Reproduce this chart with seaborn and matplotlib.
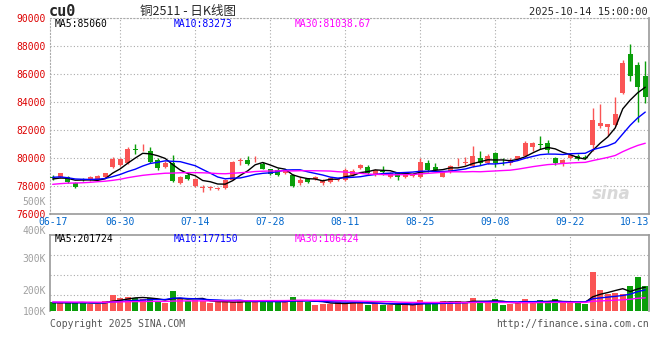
import numpy as np
import pandas as pd
import matplotlib
matplotlib.use("Agg")
import matplotlib.pyplot as plt
import seaborn as sns
from matplotlib.transforms import blended_transform_factory

# daily K data for cu2511, 2025-06-17 .. 2025-10-14 (80 trading days)
opens = [78650, 78620, 78670, 78190, 78460, 78430, 78430, 78620, 79360, 79500,
         79620, 80640, 80540, 80500, 79860, 79380, 79670, 78240, 78790, 78000,
         77850, 77880, 77800, 77840, 78430, 79780, 79860, 79980, 79570, 79190,
         79140, 78900, 78790, 78190, 78480, 78480, 78190, 78310, 78440, 78430,
         78790, 79260, 79380, 78790, 79050, 78670, 78900, 78670, 78700, 78670,
         79670, 79380, 78670, 79020, 79700, 79640, 79430, 79980, 79670, 80330,
         79720, 79620, 79930, 80140, 80760, 80960, 81050, 80020, 79670, 79980,
         80140, 80050, 80930, 82290, 82240, 82360, 84620, 87430, 86640, 85860]
highs = [78800, 78950, 78720, 78260, 78560, 78700, 78800, 78950, 80050, 80000,
         80790, 81000, 81000, 80820, 80000, 79800, 80210, 78720, 78900, 78560,
         78050, 78000, 77950, 78500, 79800, 80000, 80140, 80140, 79700, 79250,
         79300, 79250, 78850, 78650, 78550, 78750, 78500, 78650, 78600, 79300,
         79250, 79600, 79500, 79200, 79400, 79000, 79000, 78850, 78900, 80000,
         79850, 79650, 79100, 79500, 80000, 80050, 80860, 80480, 80280, 80450,
         80000, 80000, 80160, 81240, 81170, 81570, 81290, 80100, 79950, 80350,
         80300, 80200, 83570, 83860, 82450, 84330, 87000, 88140, 86860, 86930]
lows = [78450, 78560, 78250, 77850, 78350, 78380, 78400, 78560, 79300, 79450,
        79580, 80290, 80480, 79640, 79150, 79300, 78300, 78150, 78420, 77900,
        77600, 77750, 77700, 77780, 78400, 79500, 79500, 79750, 79200, 78800,
        78700, 78850, 77950, 78100, 78250, 78400, 78100, 78250, 78380, 78380,
        78700, 79200, 78800, 78700, 78800, 78600, 78450, 78600, 78650, 78600,
        79000, 79080, 78620, 78950, 79450, 79500, 79380, 79500, 79600, 79360,
        79500, 79500, 79900, 80100, 80530, 80640, 80330, 79500, 79450, 79900,
        79850, 79950, 80500, 82140, 81570, 82300, 84600, 85500, 82600, 83930]
closes = [78580, 78900, 78310, 77910, 78430, 78620, 78740, 78900, 79930, 79930,
          80640, 80570, 80600, 79740, 79260, 79670, 78380, 78670, 78480, 78480,
          77950, 77950, 77850, 78430, 79740, 79820, 79570, 80020, 79240, 78860,
          78790, 79090, 78000, 78430, 78310, 78670, 78430, 78550, 78520, 79140,
          79070, 79500, 78900, 79140, 78980, 78950, 78670, 78790, 78800, 79740,
          79140, 79140, 79020, 79430, 79740, 79670, 80140, 79670, 80140, 79670,
          79690, 79860, 80140, 81090, 81050, 80930, 80570, 79620, 79860, 80210,
          79900, 80020, 82710, 82480, 82410, 83140, 86810, 85860, 85090, 84380]
volumes = [78100, 69800, 69800, 69800, 78100, 64200, 64200, 83700, 133900, 111600,
           120000, 111600, 100400, 111600, 78100, 69800, 170200, 108800, 83700, 92100,
           83700, 69800, 78100, 78100, 78100, 83700, 92100, 78100, 92100, 78100,
           78100, 78100, 120000, 92100, 78100, 55800, 64200, 58600, 78100, 69800,
           78100, 69800, 55800, 69800, 55800, 55800, 55800, 55800, 50200, 92100,
           78100, 69800, 83700, 69800, 83700, 69800, 111600, 83700, 69800, 100400,
           55800, 64200, 72500, 100400, 78100, 92100, 69800, 100400, 69800, 69800,
           72500, 64200, 329200, 175800, 142300, 156200, 142300, 209300, 287400, 209300]

# sessions before the window, only used to warm up the moving averages
prior_closes = [77500, 77200, 77600, 77900, 77700, 77400, 77800, 78100, 77650, 77300,
                77900, 78200, 78000, 77850, 78300, 78100, 77950, 78250, 78400, 78300,
                78600, 78900, 78800, 78650, 78750, 78550, 78400, 78600, 78370]
prior_volumes = [82000, 78000, 85000, 79000, 76000, 81000, 84000, 77000, 80000, 83000,
                 79000, 78000, 82000, 80000, 76000, 81000, 79000, 83000, 78000, 79000,
                 76200, 74800, 77500, 75100, 76400, 72400, 68900, 70100, 70500]

date_labels = ["06-30", "07-14", "07-28", "08-11", "08-25", "09-08", "09-22"]
price_ticks = [76000, 78000, 80000, 82000, 84000, 86000, 88000, 90000]
vol_tick_labels = ["500K", "400K", "300K", "200K", "100K"]

RED = "#fa5555"
GREEN = "#0a9e0a"
GRID = "#aaaaaa"
ma_colors = {"MA5": "black", "MA10": "blue", "MA30": "magenta"}

dates = pd.bdate_range("2025-06-17", "2025-10-14")
dates = dates[~((dates >= "2025-10-01") & (dates <= "2025-10-08"))]
df = pd.DataFrame({"date": dates.strftime("%m-%d"), "open": opens, "high": highs,
                   "low": lows, "close": closes, "volume": volumes})
df["idx"] = np.arange(len(df))
df["up"] = df["close"] >= df["open"]
df["color"] = np.where(df["up"], RED, GREEN)

n_prior = len(prior_closes)
all_close = pd.Series(prior_closes + closes, dtype=float)
all_vol = pd.Series(prior_volumes + volumes, dtype=float)
price_ma, vol_ma = [], []
for name, w in [("MA5", 5), ("MA10", 10), ("MA30", 30)]:
    price_ma.append(pd.DataFrame({"idx": df["idx"], "ma": name,
                                  "value": all_close.rolling(w).mean().iloc[n_prior:].values}))
    vol_ma.append(pd.DataFrame({"idx": df["idx"], "ma": name,
                                "value": all_vol.rolling(w).mean().iloc[n_prior:].values}))
price_ma = pd.concat(price_ma)
vol_ma = pd.concat(vol_ma)

sns.set_style("white")
plt.rcParams["font.family"] = ["DejaVu Sans Mono", "Noto Sans CJK SC"]

W, H = 660, 360
fig = plt.figure(figsize=(6.6, 3.6), dpi=100)


def px(x, y):
    return x / W, 1 - y / H


ax = fig.add_axes([50 / W, 1 - 214 / H, 599 / W, 196 / H])
axv = fig.add_axes([50 / W, 1 - 311.3 / H, 599 / W, 76.3 / H])

grid_idx = df.loc[df["date"].isin(date_labels), "idx"].tolist()

# --- price panel ---
body = (df["close"] - df["open"]).abs().clip(lower=45)
ax.vlines(df["idx"], df["low"], df["high"], colors=df["color"], lw=1, zorder=3)
ax.bar(df["idx"], body, bottom=df[["open", "close"]].min(axis=1), width=0.72,
       color=df["color"], linewidth=0, zorder=3)
sns.lineplot(data=price_ma, x="idx", y="value", hue="ma", palette=ma_colors,
             legend=False, lw=1, ax=ax, zorder=4)

ax.set_xlim(-0.36, 79.5)
ax.set_ylim(76000, 90000)
ax.set_yticks(price_ticks)
ax.set_yticklabels([str(t) for t in price_ticks], color="#dd0000", fontsize=7)
ax.set_xticks(grid_idx)
ax.set_xticklabels([])
ax.tick_params(length=0, pad=3)
ax.grid(True, color=GRID, linestyle=(0, (1, 2)), lw=0.8)
ax.set_xlabel("")
ax.set_ylabel("")
for s in ["left", "top"]:
    ax.spines[s].set_linestyle((0, (1, 2)))
    ax.spines[s].set_color(GRID)
for s in ["bottom", "right"]:
    ax.spines[s].set_color("#999999")
    ax.spines[s].set_linewidth(1.2)

tr = blended_transform_factory(ax.transData, ax.transAxes)
ax.text(0, -0.04, df["date"].iloc[0], transform=tr, ha="center", va="center",
        color="#0066cc", fontsize=7)
for i in grid_idx:
    ax.text(i, -0.04, df["date"].iloc[i], transform=tr, ha="center", va="center",
            color="#0066cc", fontsize=7)
ax.text(1.0, -0.04, df["date"].iloc[-2], transform=ax.transAxes, ha="right",
        va="center", color="#0066cc", fontsize=7)

ax.text(0.97, 0.1, "sina", transform=ax.transAxes, ha="right", va="center",
        fontsize=12, fontweight="bold", style="italic", color="#d8d8d8",
        family="DejaVu Sans")

# --- volume panel ---
axv.bar(df["idx"], df["volume"], width=0.75, color=df["color"], linewidth=0, zorder=3)
sns.lineplot(data=vol_ma, x="idx", y="value", hue="ma", palette=ma_colors,
             legend=False, lw=1, ax=axv, zorder=4)
axv.set_xlim(-0.36, 79.5)
axv.set_ylim(0, 638000)
axv.set_yticks([136000, 303000, 470000])
axv.set_yticklabels([])
axv.set_xticks(grid_idx)
axv.set_xticklabels([])
axv.tick_params(length=0)
axv.grid(True, color=GRID, linestyle=(0, (1, 2)), lw=0.8)
axv.set_xlabel("")
axv.set_ylabel("")
for s in ["left", "top", "right"]:
    axv.spines[s].set_color("#999999")
    axv.spines[s].set_linewidth(1.2)
axv.spines["bottom"].set_visible(False)

for lbl, y in zip(vol_tick_labels, [202, 231, 259, 291, 312]):
    fig.text(*px(46, y), lbl, ha="right", va="center", color="#a0a0a0", fontsize=7)

# --- header / footer texts ---
fig.text(*px(49, 12), "cu0", ha="left", va="center", fontsize=11, fontweight="bold")
fig.text(*px(140, 12), "铜2511 - 日K线图", ha="left", va="center", fontsize=9,
         family=["Noto Sans CJK SC", "DejaVu Sans"])
fig.text(*px(648, 12), "2025-10-14 15:00:00", ha="right", va="center", fontsize=7.5)

fig.text(*px(55, 24), "MA5:85060", ha="left", va="center", fontsize=7, color="black")
fig.text(*px(174, 24), "MA10:83273", ha="left", va="center", fontsize=7, color="blue")
fig.text(*px(295, 24), "MA30:81038.67", ha="left", va="center", fontsize=7, color="magenta")
fig.text(*px(55, 239), "MA5:201724", ha="left", va="center", fontsize=7, color="black")
fig.text(*px(174, 239), "MA10:177150", ha="left", va="center", fontsize=7, color="blue")
fig.text(*px(295, 239), "MA30:106424", ha="left", va="center", fontsize=7, color="magenta")

fig.text(*px(50, 324), "Copyright 2025 SINA.COM", ha="left", va="center", fontsize=7,
         color="#555555")
fig.text(*px(649, 324), "http://finance.sina.com.cn", ha="right", va="center",
         fontsize=7, color="#555555")

fig.savefig("out.png", dpi=100)
